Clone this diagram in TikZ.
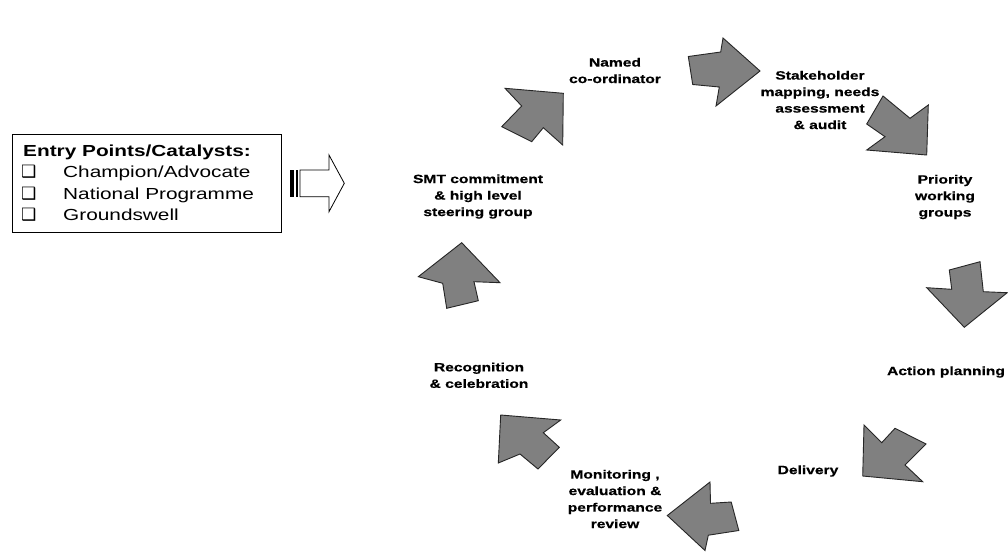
\documentclass[tikz,border=0pt]{standalone}
\usepackage{fontspec}
\setmainfont{Liberation Sans}
\newfontfamily\lab{Liberation Sans}[FakeStretch=1.3]
\newfontfamily\labb{Liberation Sans Bold}[FakeStretch=1.3,FakeBold=0.6]
\newfontfamily\symf{DejaVu Sans}
\definecolor{arrgray}{RGB}{128,128,128}
\tikzset{
  garrow/.style={draw=black!85, fill=arrgray, line width=0.9pt, line join=miter},
  lbl/.style={font=\labb\fontsize{12}{16.5}\selectfont, align=center, inner sep=0pt},
  etitle/.style={font=\lab\bfseries\fontsize{16}{20}\selectfont, anchor=base west, inner sep=0pt},
  eitem/.style={font=\lab\fontsize{16}{20}\selectfont, anchor=base west, inner sep=0pt},
  ebox/.style={font=\symf\fontsize{17}{20}\selectfont, anchor=base west, inner sep=0pt},
}
\begin{document}
\begin{tikzpicture}[x=1pt,y=-1pt]
\useasboundingbox (0,0) rectangle (1008,552);
\fill[white] (0,0) rectangle (1008,552);

% entry box
\node (entry) [draw=black, line width=0.9pt, anchor=north west, minimum width=269pt, minimum height=98pt, inner sep=0pt] at (12,134) {};
\node (etitle) [etitle] at (23,156.4) {Entry Points/Catalysts:};
\node (b1) [ebox] at (21,177.4) {❑};
\node (i1) [eitem] at (63,177.4) {Champion/Advocate};
\node (b2) [ebox] at (21,199) {❑};
\node (i2) [eitem] at (63,199) {National Programme};
\node (b3) [ebox] at (21,220.7) {❑};
\node (i3) [eitem] at (63,220.7) {Groundswell};

% striped arrow
\fill[black] (290,170) rectangle (293.5,196.7);
\fill[black] (295.7,170) rectangle (297.8,196.7);
\draw[black, line width=0.8pt, fill=white, line join=miter]
  (300,170) -- (329,170) -- (329,155) -- (344.3,183.3) -- (329,211.7) -- (329,196.7) -- (300,196.7) -- cycle;

% gray cycle arrows
% up
\draw[garrow] (461.7,242.7) -- (500,282.7) -- (474,281.7) -- (478.3,300.7) -- (446.7,308.3) -- (442.7,283.3) -- (418.3,276.7) -- cycle;
% NE
\draw[garrow] (563.3,93.3) -- (562.7,145) -- (543.3,127.7) -- (531.7,141.7) -- (501.7,126.7) -- (521.7,106) -- (505,88.3) -- cycle;
% E (top)
\draw[garrow] (760,71) -- (716,106) -- (719.3,87) -- (692.7,84.5) -- (688.3,56.5) -- (720.7,52) -- (723,38) -- cycle;
% SE
\draw[garrow] (926.7,155) -- (866.7,150) -- (885,136.7) -- (866.7,124) -- (883,96) -- (910,118.3) -- (928.3,105) -- cycle;
% S
\draw[garrow] (964.3,327.3) -- (926.7,287.7) -- (951.7,289.3) -- (949.3,270) -- (980,261.7) -- (983.3,291.7) -- (1007.2,292.7) -- cycle;
% SW
\draw[garrow] (862.7,476) -- (864,425) -- (881.7,442.7) -- (895,428.3) -- (926,444) -- (905,465) -- (922.7,481.7) -- cycle;
% W
\draw[garrow] (667.3,515.5) -- (710,482) -- (710.5,503.3) -- (731.2,502) -- (738.8,530.5) -- (708.3,535.2) -- (705,550.5) -- cycle;
% NW
\draw[garrow] (500.7,415) -- (560.7,420) -- (543.3,432.7) -- (559.3,447.3) -- (538,469) -- (520,454) -- (498.3,463) -- cycle;

% labels
\node (named) [lbl] at (615,70.5) {Named\\co-ordinator};
\node (stake) [lbl] at (820,100) {Stakeholder\\mapping, needs\\assessment\\\& audit};
\node (prio) [lbl] at (945,197) {Priority\\working\\groups};
\node (action) [lbl] at (946,372) {Action planning};
\node (deliv) [lbl] at (808,471) {Delivery};
\node (monit) [lbl] at (615,499) {Monitoring ,\\evaluation \&\\performance\\review};
\node (recog) [lbl] at (479,375.3) {Recognition\\\& celebration};
\node (smt) [lbl] at (478,196.5) {SMT commitment\\\& high level\\steering group};
\end{tikzpicture}
\end{document}
